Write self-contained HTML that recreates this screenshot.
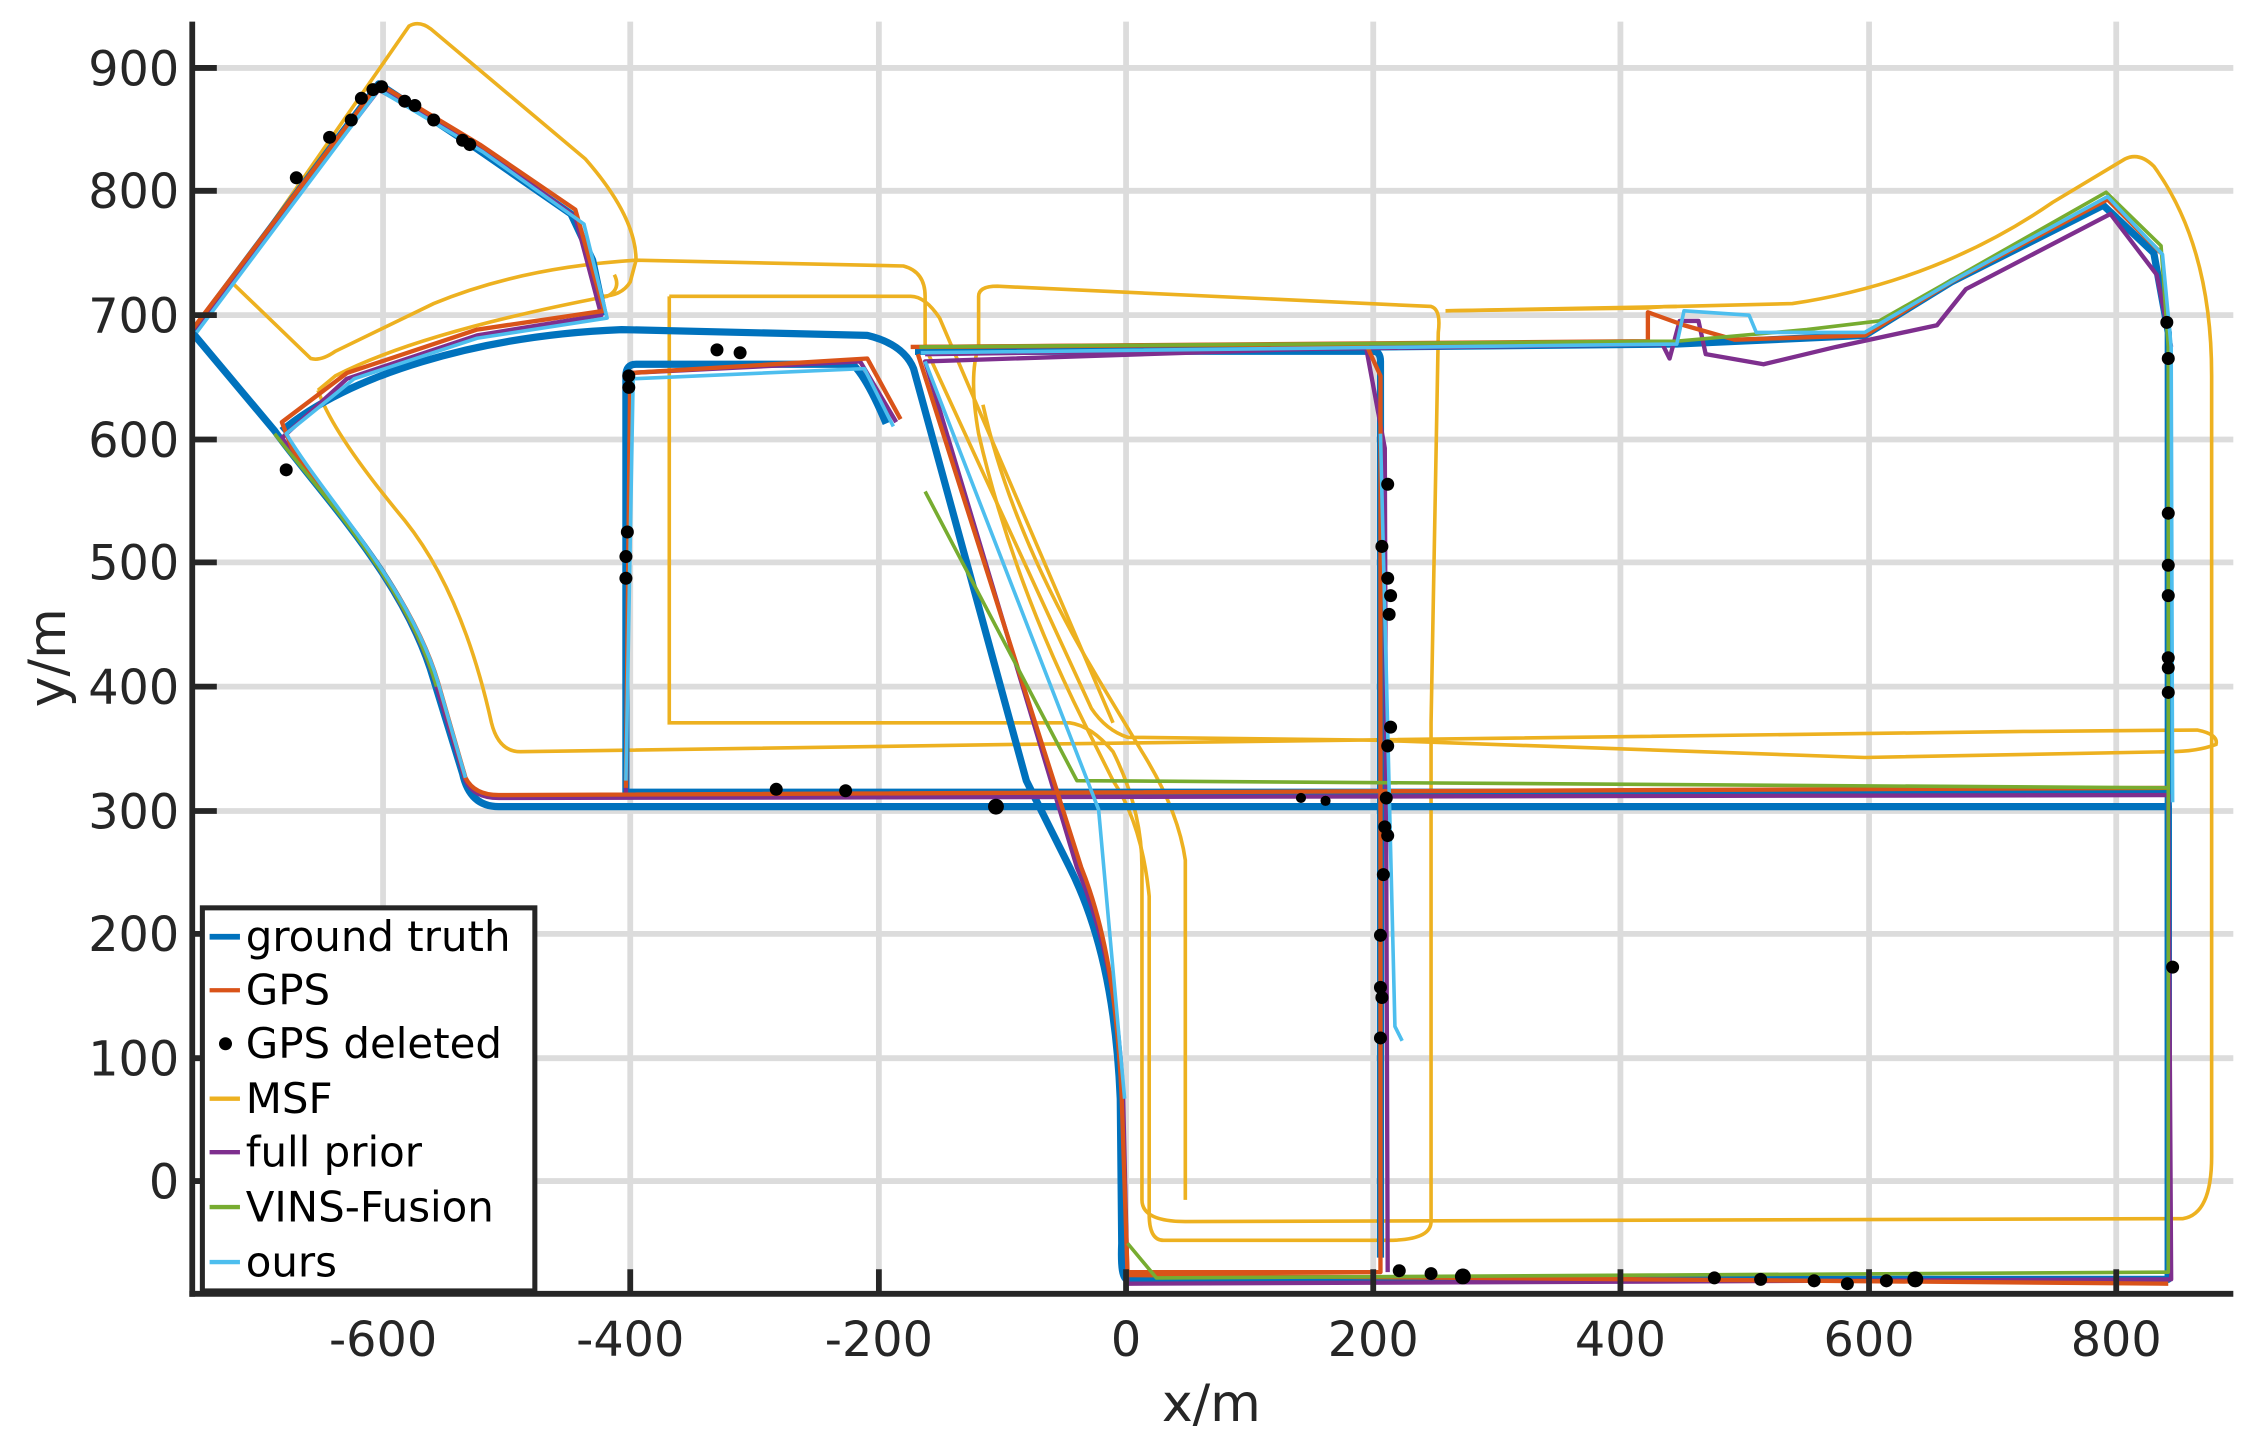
<!DOCTYPE html>
<html><head><meta charset="utf-8"><style>
html,body{margin:0;padding:0;background:#fff;}
svg{display:block;}
text{font-family:"DejaVu Sans","Liberation Sans",sans-serif;fill:#262626;}
</style></head><body>
<svg width="2255" height="1442" viewBox="0 0 1560 997.5" preserveAspectRatio="none" xmlns="http://www.w3.org/2000/svg">
<rect width="1560" height="997.5" fill="#fff"/>
<g stroke="#dcdcdc" stroke-width="4">
<line x1="265" y1="15" x2="265" y2="895"/><line x1="436" y1="15" x2="436" y2="895"/>
<line x1="608" y1="15" x2="608" y2="895"/><line x1="779" y1="15" x2="779" y2="895"/>
<line x1="950" y1="15" x2="950" y2="895"/><line x1="1121" y1="15" x2="1121" y2="895"/>
<line x1="1293" y1="15" x2="1293" y2="895"/><line x1="1464" y1="15" x2="1464" y2="895"/>
<line x1="133" y1="47" x2="1545" y2="47"/><line x1="133" y1="132" x2="1545" y2="132"/>
<line x1="133" y1="218" x2="1545" y2="218"/><line x1="133" y1="304" x2="1545" y2="304"/>
<line x1="133" y1="389" x2="1545" y2="389"/><line x1="133" y1="475" x2="1545" y2="475"/>
<line x1="133" y1="561" x2="1545" y2="561"/><line x1="133" y1="646" x2="1545" y2="646"/>
<line x1="133" y1="732" x2="1545" y2="732"/><line x1="133" y1="817" x2="1545" y2="817"/>
</g>
<g fill="none" stroke="#EDB120" stroke-width="2.5">
<path d="M160,195 L283,18 Q290,14 298,20 L405,110 Q440,150 440,180 L436,195 Q430,205 415,205"/>
<path d="M160,195 L215,248 Q222,250 232,243 L300,210 Q360,185 440,180 L625,184 Q640,188 640,205 L640,240"/>
<path d="M220,270 L232,260 Q290,230 420,205 Q430,200 425,190"/>
<path d="M220,270 Q230,300 280,360 Q320,410 340,500 Q345,520 360,520 L700,515 L1400,506 L1520,505 Q1535,508 1533,515 Q1520,520 1500,520 L1290,524 L950,512 L780,510 Q765,505 755,490 L640,240"/>
<path d="M463,205 L630,205 Q640,205 650,220 L770,500"/>
<path d="M463,205 L463,500 L740,500 Q755,502 770,520 Q790,560 790,600 L790,830 Q790,845 820,845 L1510,843 Q1530,840 1530,800 L1530,260 Q1530,170 1490,115 Q1480,105 1470,110 L1420,140 Q1340,195 1240,210 L1160,212 L1000,215"/>
<path d="M677,205 Q677,198 690,198 L990,212 Q997,214 995,230 L990,500 L990,845 Q990,858 960,858 L805,858 Q795,858 795,840 L795,620 Q790,570 770,540 L750,500 Q700,400 677,300 Q670,260 677,240 Z"/>
<path d="M820,830 L820,595 Q815,560 790,520 L760,470 Q700,370 680,280"/>
<path d="M1000,215 L1140,213 Q1150,212 1160,212"/>
</g>
<g fill="none" stroke="#0072BD" stroke-width="5" stroke-linejoin="round">
<path d="M133,230 L262,58 L330,103 L395,148 L410,180 L418,218"/>
<path d="M133,230 L190,298 C220,340 280,400 300,470 L320,535 Q325,558 345,558 L1500,558 L1500,885 L780,885 Q775,885 776,860 L775,760 C772,690 760,640 740,600 L710,540 L632,255 Q625,238 600,232 L430,228 C330,232 240,260 195,298"/>
<path d="M613,293 Q600,262 590,252 L440,252 Q433,252 433,260 L433,548 L770,548 L1500,548"/>
<path d="M633,243 L950,243 Q955,243 955,250 L955,870"/>
<path d="M633,243 L1160,238 L1290,232 L1350,195 L1455,142 L1490,175 L1500,230 L1500,885"/>
</g>
<g fill="none" stroke="#7E2F8E" stroke-width="3" stroke-linejoin="round">
<path d="M135,228 L262,62 L330,100 L398,150 L416,218 L330,232 L240,262 L195,303 C225,345 282,405 302,475 L322,540 Q328,552 345,552 L1500,550 L1502,885 L780,888 L777,760 C774,690 762,640 745,600 L640,250 L945,240 L958,310 L960,880"/>
<path d="M433,550 L436,258 L595,250 L620,292"/>
<path d="M640,245 L1150,238 L1155,248 L1162,222 L1175,222 L1180,245 L1220,252 L1270,240 L1340,225 L1360,200 L1460,148 L1492,190 L1502,240"/>
</g>
<g fill="none" stroke="#D95319" stroke-width="3" stroke-linejoin="round">
<path d="M133,228 L262,58 L332,100 L398,145 L418,215 L330,228 L240,258 L195,292 L202,310 C225,345 283,405 303,472 L322,538 Q328,550 345,550 L1500,545"/>
<path d="M433,545 L436,258 L600,248 L623,290"/>
<path d="M630,240 L945,238 L955,260 L955,880 L780,880 L776,760 C773,690 764,640 748,600 L635,245"/>
<path d="M640,240 L1140,236 L1140,216 L1165,225 L1200,235 L1290,232 L1350,195 L1458,138 L1495,175"/>
<path d="M780,882 L1500,888"/>
</g>
<g fill="none" stroke="#77AC30" stroke-width="2.5" stroke-linejoin="round">
<path d="M636,240 L1160,236 L1250,228 L1300,222 L1360,188 L1457,133 L1495,170 L1500,240 L1500,880 L1150,882 L800,884 L780,860"/>
<path d="M640,340 L745,540 L1500,545"/>
<path d="M190,300 C225,345 282,405 302,475"/>
</g>
<g fill="none" stroke="#4DBEEE" stroke-width="2.5" stroke-linejoin="round">
<path d="M136,230 L262,62 L334,105 L404,155 L420,220 L330,234 L245,262 L198,300 C225,345 283,405 303,472 L322,538"/>
<path d="M637,244 L1160,238 L1165,215 L1210,218 L1215,230 L1290,230 L1355,192 L1458,136 L1496,176 L1502,240 L1503,555"/>
<path d="M955,300 L965,710 L970,720"/>
<path d="M433,540 L438,262 L598,255 L618,295"/>
<path d="M640,250 L760,560 L778,760"/>
</g>
<g fill="#000">
<circle cx="205" cy="123" r="4.5"/><circle cx="228" cy="95" r="4.5"/><circle cx="243" cy="83" r="4.5"/><circle cx="250" cy="68" r="4.5"/><circle cx="258" cy="62" r="4.5"/><circle cx="264" cy="60" r="4.5"/><circle cx="280" cy="70" r="4.5"/><circle cx="287" cy="73" r="4.5"/><circle cx="300" cy="83" r="4.5"/><circle cx="320" cy="97" r="4.5"/><circle cx="325" cy="100" r="4.5"/>
<circle cx="198" cy="325" r="4.5"/><circle cx="435" cy="260" r="4.5"/><circle cx="435" cy="268" r="4.5"/><circle cx="434" cy="368" r="4.5"/><circle cx="433" cy="385" r="4.5"/><circle cx="433" cy="400" r="4.5"/>
<circle cx="496" cy="242" r="4.5"/><circle cx="512" cy="244" r="4.5"/><circle cx="537" cy="546" r="4.5"/><circle cx="585" cy="547" r="4.5"/><circle cx="689" cy="558" r="5.5"/>
<circle cx="900" cy="552" r="3.5"/><circle cx="917" cy="554" r="3.5"/>
<circle cx="960" cy="335" r="4.5"/><circle cx="956" cy="378" r="4.5"/><circle cx="960" cy="400" r="4.5"/><circle cx="962" cy="412" r="4.5"/><circle cx="961" cy="425" r="4.5"/><circle cx="962" cy="503" r="4.5"/><circle cx="960" cy="516" r="4.5"/><circle cx="959" cy="552" r="4.5"/><circle cx="958" cy="572" r="4.5"/><circle cx="960" cy="578" r="4.5"/><circle cx="957" cy="605" r="4.5"/><circle cx="955" cy="647" r="4.5"/><circle cx="955" cy="683" r="4.5"/><circle cx="956" cy="690" r="4.5"/><circle cx="955" cy="718" r="4.5"/>
<circle cx="968" cy="879" r="4.5"/><circle cx="990" cy="881" r="4.5"/><circle cx="1012" cy="883" r="5.5"/><circle cx="1186" cy="884" r="4.5"/><circle cx="1218" cy="885" r="4.5"/><circle cx="1255" cy="886" r="4.5"/><circle cx="1278" cy="888" r="4.5"/><circle cx="1305" cy="886" r="4.5"/><circle cx="1325" cy="885" r="5.5"/>
<circle cx="1499" cy="223" r="4.5"/><circle cx="1500" cy="248" r="4.5"/><circle cx="1500" cy="355" r="4.5"/><circle cx="1500" cy="391" r="4.5"/><circle cx="1500" cy="412" r="4.5"/><circle cx="1500" cy="455" r="4.5"/><circle cx="1500" cy="462" r="4.5"/><circle cx="1500" cy="479" r="4.5"/><circle cx="1503" cy="669" r="4.5"/>
</g>
<g stroke="#262626" stroke-width="4">
<line x1="133" y1="15" x2="133" y2="897"/><line x1="131" y1="895" x2="1545" y2="895"/>
<line x1="133" y1="47" x2="150" y2="47"/><line x1="133" y1="132" x2="150" y2="132"/><line x1="133" y1="218" x2="150" y2="218"/><line x1="133" y1="304" x2="150" y2="304"/><line x1="133" y1="389" x2="150" y2="389"/><line x1="133" y1="475" x2="150" y2="475"/><line x1="133" y1="561" x2="150" y2="561"/><line x1="133" y1="646" x2="150" y2="646"/><line x1="133" y1="732" x2="150" y2="732"/><line x1="133" y1="817" x2="150" y2="817"/>
<line x1="436" y1="895" x2="436" y2="878"/><line x1="608" y1="895" x2="608" y2="878"/><line x1="779" y1="895" x2="779" y2="878"/><line x1="950" y1="895" x2="950" y2="878"/><line x1="1121" y1="895" x2="1121" y2="878"/><line x1="1293" y1="895" x2="1293" y2="878"/><line x1="1464" y1="895" x2="1464" y2="878"/>
</g>
<g font-size="33" text-anchor="end">
<text x="124" y="59">900</text><text x="124" y="144">800</text><text x="124" y="230">700</text><text x="124" y="316">600</text><text x="124" y="401">500</text><text x="124" y="487">400</text><text x="124" y="573">300</text><text x="124" y="658">200</text><text x="124" y="744">100</text><text x="124" y="829">0</text>
</g>
<g font-size="33" text-anchor="middle">
<text x="265" y="938">-600</text><text x="436" y="938">-400</text><text x="608" y="938">-200</text><text x="779" y="938">0</text><text x="950" y="938">200</text><text x="1121" y="938">400</text><text x="1293" y="938">600</text><text x="1464" y="938">800</text>
<text x="838" y="983" font-size="36">x/m</text>
<text x="0" y="0" font-size="36" transform="translate(45,455) rotate(-90)">y/m</text>
</g>
<rect x="140" y="628" width="230" height="265" fill="#fff" stroke="#262626" stroke-width="3.5"/>
<g stroke-width="4">
<line x1="145" y1="648" x2="166" y2="648" stroke="#0072BD"/>
<line x1="145" y1="685" x2="166" y2="685" stroke="#D95319" stroke-width="3"/>
<line x1="145" y1="760" x2="166" y2="760" stroke="#EDB120" stroke-width="3"/>
<line x1="145" y1="797" x2="166" y2="797" stroke="#7E2F8E" stroke-width="3"/>
<line x1="145" y1="835" x2="166" y2="835" stroke="#77AC30" stroke-width="3"/>
<line x1="145" y1="873" x2="166" y2="873" stroke="#4DBEEE" stroke-width="3"/>
</g>
<circle cx="156" cy="722" r="4.5" fill="#000"/>
<g font-size="29">
<text x="170" y="658" style="fill:#000">ground truth</text>
<text x="170" y="695" style="fill:#000">GPS</text>
<text x="170" y="732" style="fill:#000">GPS deleted</text>
<text x="170" y="770" style="fill:#000">MSF</text>
<text x="170" y="807" style="fill:#000">full prior</text>
<text x="170" y="845" style="fill:#000">VINS-Fusion</text>
<text x="170" y="883" style="fill:#000">ours</text>
</g>
</svg>
</body></html>
